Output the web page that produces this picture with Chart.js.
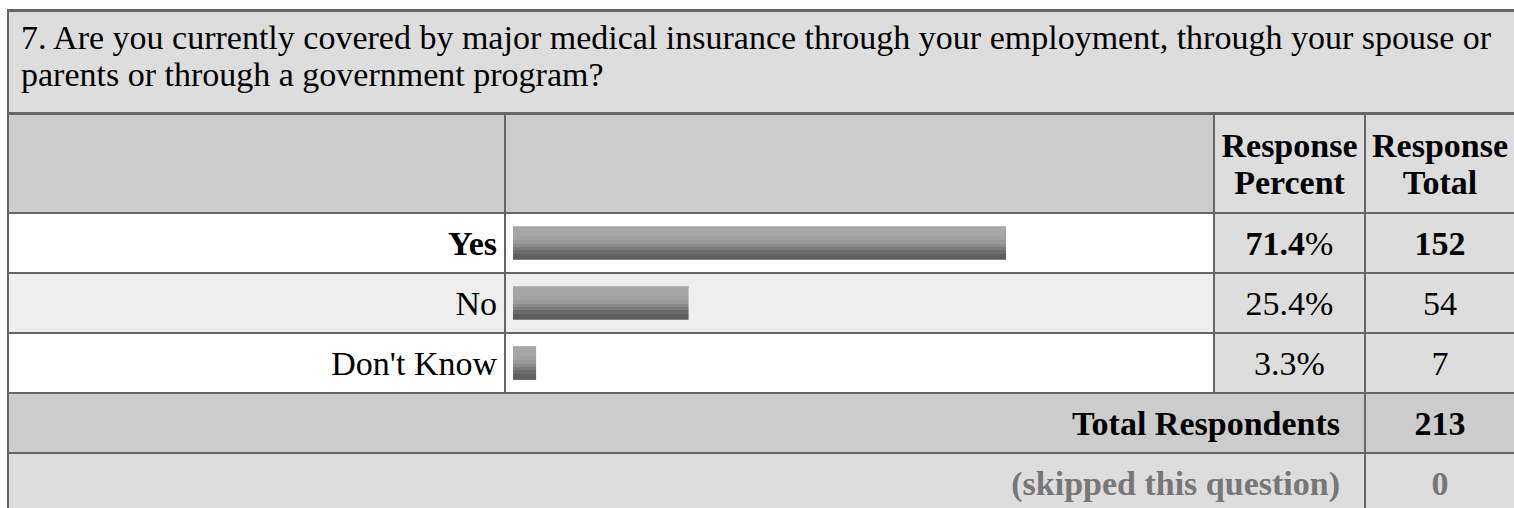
<!DOCTYPE html>
<html>
<head>
<meta charset="utf-8">
<script src="https://cdn.jsdelivr.net/npm/chart.js@4"></script>
<style>
  html, body { margin: 0; padding: 0; overflow: hidden; background: #fff; }
  body { width: 1514px; height: 508px; position: relative; }
  table {
    position: absolute; left: 7px; top: 9px;
    border-collapse: separate; border-spacing: 0;
    table-layout: fixed; width: 1509px;
    border-left: 2px solid #666; border-top: 3px solid #666;
    font-family: "Liberation Serif", "Times New Roman", serif;
    font-size: 34px; color: #000;
  }
  td {
    box-sizing: border-box; padding: 0;
    border-right: 2px solid #666; border-bottom: 2px solid #666;
    vertical-align: middle; line-height: 37px; overflow: hidden; white-space: nowrap;
  }
  td.q { background: #ddd; height: 103px; border-bottom-width: 3px; padding: 7px 6px 0 12px; text-align: left; vertical-align: top; white-space: normal; }
  tr.head td { height: 99px; background: #ccc; font-weight: bold; text-align: center; white-space: normal; }
  tr.head td.num { background: #ddd; }
  tr.row td { height: 60px; }
  td.lbl { text-align: right; padding-right: 7px; }
  td.num { background: #ddd; text-align: center; }
  tr.row td.lbl, tr.row td.bar { background: #fff; }
  tr.row.alt td.lbl, tr.row.alt td.bar { background: #eee; }
  tr.sum td { height: 60px; background: #ccc; font-weight: bold; }
  tr.sum td.txt { text-align: right; padding-right: 24px; }
  tr.sum td.num { background: #ccc; }
  tr.skip td { height: 60px; background: #ddd; font-weight: bold; color: #777; }
  tr.skip td.txt { text-align: right; padding-right: 24px; }
  .b { font-weight: bold; }
  #wrap { position: absolute; left: 513px; top: 213px; width: 690px; height: 180px; pointer-events: none; }
</style>
</head>
<body>
<table id="tbl">
  <colgroup>
    <col style="width:497px"><col style="width:709px"><col style="width:151px"><col style="width:150px">
  </colgroup>
  <tbody id="body"></tbody>
</table>
<div id="wrap"><canvas id="bars" width="690" height="180"></canvas></div>

<script>
const question = "7. Are you currently covered by major medical insurance through your employment, through your spouse or parents or through a government program?";
const categories = ["Yes", "No", "Don't Know"];
const percents = [71.4, 25.4, 3.3];
const totals = [152, 54, 7];
const totalRespondents = 213;
const skipped = 0;

/* ================================
   TABLE
================================ */
const tbody = document.getElementById("body");
const maxTotal = Math.max(...totals);

let html = `<tr><td class="q" colspan="4">${question}</td></tr>`;
html += `<tr class="head"><td></td><td></td><td class="num">Response Percent</td><td class="num">Response Total</td></tr>`;

categories.forEach((c, i) => {
  const hi = totals[i] === maxTotal;
  const pct = percents[i].toFixed(1);
  html += `<tr class="row${i % 2 ? " alt" : ""}">` +
    `<td class="lbl${hi ? " b" : ""}">${c}</td>` +
    `<td class="bar"></td>` +
    `<td class="num">${hi ? `<b>${pct}</b>%` : pct + "%"}</td>` +
    `<td class="num${hi ? " b" : ""}">${totals[i]}</td></tr>`;
});

html += `<tr class="sum"><td class="txt" colspan="3">Total Respondents</td><td class="num">${totalRespondents}</td></tr>`;
html += `<tr class="skip"><td class="txt" colspan="3">(skipped this question)</td><td class="num">${skipped}</td></tr>`;
tbody.innerHTML = html;

/* ================================
   BARS
================================ */
const shades = [
  [0, "#a6a6a6"], [0.3, "#a2a2a2"], [0.42, "#9a9a9a"], [0.52, "#8c8c8c"],
  [0.62, "#7b7b7b"], [0.72, "#6b6b6b"], [0.82, "#5e5e5e"], [1, "#565656"]
];

function barFill(context) {
  const chart = context.chart;
  const y = chart.scales.y;
  if (!y || context.dataIndex === undefined) return "#888";
  const mid = y.getPixelForValue(context.dataIndex);
  if (!isFinite(mid)) return "#888";
  const g = chart.ctx.createLinearGradient(0, mid - 16.5, 0, mid + 16.5);
  for (let k = 0; k < shades.length; k++) {
    g.addColorStop(shades[k][0], shades[k][1]);
    if (k + 1 < shades.length) g.addColorStop(shades[k + 1][0] - 0.001, shades[k][1]);
  }
  return g;
}

const chart = new Chart(document.getElementById("bars"), {
  type: "bar",
  data: {
    labels: categories,
    datasets: [{
      data: percents,
      backgroundColor: barFill,
      borderWidth: 0,
      barThickness: 33
    }]
  },
  options: {
    indexAxis: "y",
    responsive: false,
    animation: false,
    devicePixelRatio: 1,
    layout: { padding: 0 },
    plugins: { legend: { display: false }, tooltip: { enabled: false } },
    scales: {
      x: { display: false, min: 0, max: 100 },
      y: { display: false }
    }
  }
});
chart.update();
</script>
</body>
</html>
